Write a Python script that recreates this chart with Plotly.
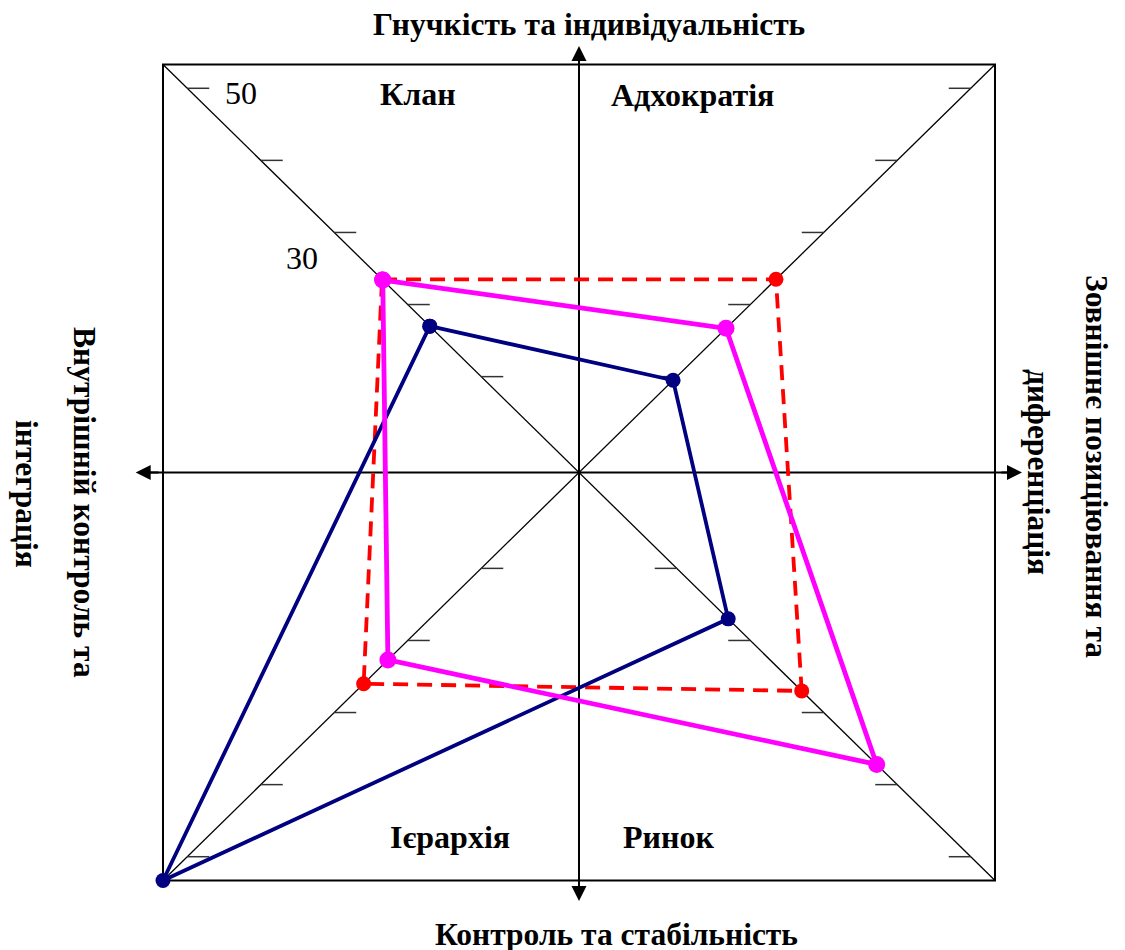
import plotly.graph_objects as go

# ---------------- data ----------------
CATEGORIES = ["Клан", "Адхократія", "Ринок", "Ієрархія"]
SERIES_NAMES = ["Ряд 1", "Ряд 2", "Ряд 3"]
SERIES_RED = [23.5, 23.5, 27.0, 26.0]
SERIES_MAGENTA = [23.4, 16.7, 37.2, 22.7]
SERIES_NAVY = [17.0, 9.5, 17.0, 53.3]
TICK_VALUES = [10, 20, 30, 40, 50]
TICK_LABELS = ["50", "30"]
AXIS_MIN = -3.3   # value at the centre
AXIS_MAX = 53.3   # value at the frame corner
TITLE_TOP = "Гнучкість та індивідуальність"
TITLE_BOTTOM = "Контроль та стабільність"
TITLE_LEFT = ["Внутрішній контроль та", "інтеграція"]
TITLE_RIGHT = ["Зовнішнє позиціювання та", "диференціація"]

# ---------------- geometry / style ----------------
W, H = 1125, 950
OFF = 8                      # page body margin of the html page
CX, CY = 579, 472.5          # centre in screen pixels
HALF_X, HALF_Y = 416, 408
L = AXIS_MAX - AXIS_MIN
KX, KY = HALF_X / L, HALF_Y / L
ML, MR, MT, MB = 60, 60, 20, 40
# plot area in screen pixels
SX0, SX1 = ML + OFF, W - MR + OFF
SY0, SY1 = MT + OFF, H - MB + OFF

# diagonal direction of each category (Клан top-left, clockwise)
DIRS = {"Клан": (-1, 1), "Адхократія": (1, 1), "Ринок": (1, -1), "Ієрархія": (-1, -1)}


def ux(px):
    return (px - CX) / KX


def uy(py):
    return (CY - py) / KY


def paper_x(px):
    return (px - SX0) / (SX1 - SX0)


def paper_y(py):
    return (SY1 - py) / (SY1 - SY0)


def polygon(values):
    xs, ys = [], []
    for cat, v in zip(CATEGORIES, values):
        sx, sy = DIRS[cat]
        xs.append(sx * (v - AXIS_MIN))
        ys.append(sy * (v - AXIS_MIN))
    return xs + xs[:1], ys + ys[:1]


FONT = "Liberation Serif"
fig = go.Figure()

styles = [
    (SERIES_RED, SERIES_NAMES[0], "#FF0000", 3.8, "15px,9px", 15),
    (SERIES_NAVY, SERIES_NAMES[2], "#000080", 3.8, "solid", 15),
    (SERIES_MAGENTA, SERIES_NAMES[1], "#FF00FF", 4.8, "solid", 17),
]
for vals, name, col, lw, dash, ms in styles:
    xs, ys = polygon(vals)
    fig.add_trace(go.Scatter(
        x=xs, y=ys, name=name, mode="lines+markers",
        line=dict(color=col, width=lw, dash=dash),
        marker=dict(color=col, size=ms, symbol="circle"),
        cliponaxis=False, hoverinfo="skip",
    ))

shapes = []
# frame
shapes.append(dict(type="rect", xref="x", yref="y", x0=-L, y0=-L, x1=L, y1=L,
                   line=dict(color="black", width=2), layer="below"))
# diagonals
shapes.append(dict(type="line", xref="x", yref="y", x0=-L, y0=L, x1=L, y1=-L,
                   line=dict(color="black", width=1.3), layer="below"))
shapes.append(dict(type="line", xref="x", yref="y", x0=-L, y0=-L, x1=L, y1=L,
                   line=dict(color="black", width=1.3), layer="below"))
# main axes (lines)
shapes.append(dict(type="line", xref="x", yref="y", x0=ux(140), y0=0, x1=ux(1018), y1=0,
                   line=dict(color="black", width=2), layer="below"))
shapes.append(dict(type="line", xref="x", yref="y", x0=0, y0=uy(50), x1=0, y1=uy(897),
                   line=dict(color="black", width=2), layer="below"))
# tick marks along diagonals (pointing inward)
TL = 22 / KX
for cat in CATEGORIES:
    sx, sy = DIRS[cat]
    for v in TICK_VALUES:
        d = v - AXIS_MIN
        shapes.append(dict(type="line", xref="x", yref="y",
                           x0=sx * d, y0=sy * d, x1=sx * (d - TL), y1=sy * d,
                           line=dict(color="#333333", width=1.5), layer="below"))

ann = []
# arrowheads
TIP = 4
for (tx, ty, bx, by) in [
    (ux(131.7 + TIP), 0, ux(160), 0),
    (ux(1026 - TIP), 0, ux(1000), 0),
    (0, uy(42 + TIP), 0, uy(70)),
    (0, uy(905 - TIP), 0, uy(877)),
]:
    ann.append(dict(x=tx, y=ty, ax=bx, ay=by, xref="x", yref="y", axref="x", ayref="y",
                    text="", showarrow=True, arrowhead=2, arrowsize=1.5, arrowwidth=2,
                    arrowcolor="black"))

# tick labels
LABEL_OFFSETS = {"50": (7.25, -0.65), "30": (-4.4, -3.55)}
for lab in TICK_LABELS:
    d = float(lab) - AXIS_MIN
    ox, oy = LABEL_OFFSETS[lab]
    ann.append(dict(x=-d + ox, y=d + oy, xref="x", yref="y", text=lab, showarrow=False,
                    xanchor="center", yanchor="middle",
                    font=dict(family=FONT, size=32, color="black")))

# quadrant (category) labels
QPOS = {"Клан": (418, 94), "Адхократія": (692, 95), "Ринок": (668, 837), "Ієрархія": (450, 837)}
for cat in CATEGORIES:
    px, py = QPOS[cat]
    ann.append(dict(x=paper_x(px), y=paper_y(py), xref="paper", yref="paper",
                    text="<b>%s</b>" % cat, showarrow=False, xanchor="center", yanchor="middle",
                    font=dict(family=FONT, size=32, color="black")))


# axis titles
def title(text, px, py, angle=0):
    ann.append(dict(x=paper_x(px), y=paper_y(py), xref="paper", yref="paper",
                    text="<b>%s</b>" % text, showarrow=False, xanchor="center", yanchor="middle",
                    textangle=angle, font=dict(family=FONT, size=31.5, color="black")))


title(TITLE_TOP, 589, 24.5)
title(TITLE_BOTTOM, 616, 934.5)
title(TITLE_LEFT[0], 84, 502, 90)
title(TITLE_LEFT[1], 27, 494, 90)
title(TITLE_RIGHT[0], 1097, 466, 90)
title(TITLE_RIGHT[1], 1038, 472, 90)

fig.update_layout(
    width=W, height=H, autosize=False,
    margin=dict(l=ML, r=MR, t=MT, b=MB, pad=0),
    paper_bgcolor="white", plot_bgcolor="white",
    showlegend=False,
    xaxis=dict(range=[ux(SX0), ux(SX1)], visible=False, fixedrange=True),
    yaxis=dict(range=[uy(SY1), uy(SY0)], visible=False, fixedrange=True),
    shapes=shapes, annotations=ann,
)

fig.write_html("out.html")
